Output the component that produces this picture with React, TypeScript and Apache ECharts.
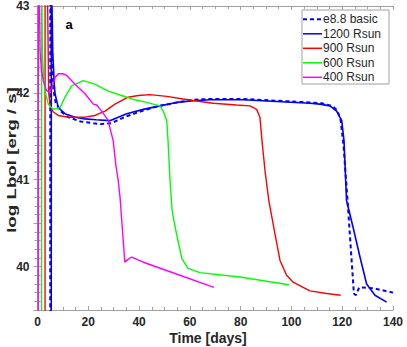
import React, { useEffect, useRef } from "react";
import * as echarts from "echarts";

// Time [days] and log Lbol for each model
const basicT = [5.0, 5.05, 5.3, 5.6, 6.2, 7.2, 9.5, 12, 17, 22, 25, 29, 35, 42, 48, 55, 61, 68, 81, 94, 107, 112, 116, 118, 119.3, 120.5, 122.1, 123.4, 124.6, 125.4, 126.7, 128.3, 132.2, 140];
const basicL = [38, 45, 43, 42.48, 42.05, 41.88, 41.78, 41.72, 41.67, 41.65, 41.64, 41.65, 41.73, 41.8, 41.85, 41.89, 41.92, 41.93, 41.93, 41.91, 41.89, 41.88, 41.85, 41.8, 41.7, 41.4, 40.76, 40.2, 39.69, 39.67, 39.76, 39.76, 39.75, 39.7];

const r1200T = [5.4, 5.45, 5.7, 6.0, 6.6, 6.9, 8.2, 10.8, 14.8, 18.7, 23, 28.5, 35.1, 41.7, 48.2, 54.8, 61.3, 67.9, 81, 94.2, 107.3, 111.2, 115.2, 117.8, 119.8, 120.7, 121.7, 124.3, 127, 129.6, 132.9, 137.5];
const r1200L = [38, 45, 43, 42.48, 42.1, 41.99, 41.83, 41.76, 41.72, 41.7, 41.69, 41.68, 41.76, 41.81, 41.85, 41.89, 41.91, 41.92, 41.92, 41.9, 41.88, 41.87, 41.85, 41.79, 41.68, 41.45, 40.76, 40.45, 40.11, 39.8, 39.67, 39.59];

const r900T = [2.95, 3.0, 4.0, 4.2, 4.4, 5.0, 6.2, 8.2, 12.1, 18.7, 22.6, 26.6, 30.5, 35.7, 39.7, 44.3, 50.9, 57.4, 64, 69.2, 78.4, 83.7, 86.3, 87.6, 88.4, 89.6, 91.1, 93.5, 95.5, 98.1, 100.7, 104.6, 107.3, 113.9, 119.4];
const r900L = [38, 45, 43, 42.5, 42.0, 41.85, 41.78, 41.74, 41.72, 41.72, 41.74, 41.79, 41.87, 41.95, 41.97, 41.98, 41.96, 41.93, 41.9, 41.88, 41.86, 41.85, 41.81, 41.72, 41.45, 41.1, 40.76, 40.38, 40.07, 39.9, 39.82, 39.76, 39.72, 39.69, 39.67];

const r600T = [1.6, 1.62, 1.75, 1.9, 2.3, 2.95, 4.25, 6.2, 8.9, 10.8, 13.5, 18, 22.6, 27.9, 33.1, 38.4, 43, 48.2, 49.5, 50.9, 51.4, 52.2, 53, 54.1, 55.3, 56.9, 59.3, 64, 79.7, 99];
const r600L = [38, 45, 43, 42.48, 42.2, 42.02, 41.87, 41.81, 41.83, 41.95, 42.08, 42.14, 42.1, 42.02, 41.97, 41.92, 41.89, 41.85, 41.79, 41.68, 41.45, 40.99, 40.65, 40.47, 40.3, 40.09, 39.98, 39.93, 39.88, 39.79];

const r400T = [0.3, 0.32, 0.8, 1.0, 1.6, 2.3, 3.5, 4.6, 5.5, 7, 8.2, 10, 11.5, 14.8, 18.7, 22, 23.3, 25.3, 27.9, 28.5, 29.8, 30.9, 31.8, 32.5, 34.4, 35.5, 37.1, 41.7, 52.2, 69.5];
const r400L = [38, 45, 43, 42.48, 42.25, 42.14, 42.03, 42.0, 42.05, 42.18, 42.22, 42.22, 42.2, 42.1, 41.99, 41.87, 41.86, 41.79, 41.68, 41.6, 41.45, 41.16, 40.99, 40.8, 40.05, 40.08, 40.11, 40.05, 39.94, 39.76];

const seriesNames = ["e8.8 basic", "1200 Rsun", "900 Rsun", "600 Rsun", "400 Rsun"];
const seriesColors = ["#0000ff", "#0000ff", "#ff0000", "#00ff00", "#ff00ff"];
const xTicks = { min: 0, max: 140, step: 20 };
const yTicks = { min: 39.5, max: 43, step: 0.5 };

const zip = (t: number[], l: number[]) => t.map((v, i) => [v, l[i]]);

const FONT = "'Liberation Sans', Arial, Helvetica, sans-serif";
const AX = "#a0a0a0";
const TXT = "#262626";

export default function App() {
  const ref = useRef<HTMLDivElement>(null);
  useEffect(() => {
    if (!ref.current) return;
    const chart = echarts.init(ref.current, undefined, { renderer: "svg" });
    const axisCommon = {
      type: "value" as const,
      axisLine: { show: true, lineStyle: { color: AX, width: 1 } },
      axisTick: { show: true, inside: true, length: 4, lineStyle: { color: AX } },
      minorTick: { show: true, length: 3, lineStyle: { color: AX } },
      splitLine: { show: false },
      minorSplitLine: { show: false },
    };
    const labelStyle = { fontSize: 12, fontWeight: "bold" as const, color: TXT, fontFamily: FONT };
    const mk = (name: string, data: number[][], color: string, width: number, type: any = "solid") => ({
      name,
      type: "line" as const,
      data,
      symbol: "none",
      xAxisIndex: 0,
      yAxisIndex: 0,
      clip: true,
      lineStyle: { color, width, type },
      itemStyle: { color },
    });

    // legend drawn as graphic elements (line samples, no symbols)
    const legX = 302, legY = 10, legW = 87, legH = 74, rowY0 = 19.3, rowStep = 14.5;
    const legendChildren: any[] = [
      { type: "rect", shape: { x: legX, y: legY, width: legW, height: legH }, style: { fill: "#fff", stroke: AX, lineWidth: 1 } },
    ];
    seriesNames.forEach((name, i) => {
      const y = rowY0 + i * rowStep;
      legendChildren.push({
        type: "line",
        shape: { x1: legX + 1, y1: y, x2: legX + 20, y2: y },
        style: { stroke: seriesColors[i], lineWidth: i === 0 ? 2 : 1.5, lineDash: i === 0 ? [4, 3] : null },
      });
      legendChildren.push({
        type: "text",
        x: legX + 21,
        y,
        style: { text: name, fontSize: 12, fill: TXT, fontFamily: FONT, textAlign: "left", textVerticalAlign: "middle" },
      });
    });

    chart.setOption({
      animation: false,
      backgroundColor: "#ffffff",
      grid: { left: 37.5, right: 14, top: 5, bottom: 37, containLabel: false },
      xAxis: [
        {
          ...axisCommon,
          position: "bottom",
          min: xTicks.min,
          max: xTicks.max,
          interval: xTicks.step,
          minorTick: { ...axisCommon.minorTick, splitNumber: 4 },
          axisLabel: { ...labelStyle, margin: 6 },
        },
        {
          ...axisCommon,
          position: "top",
          min: xTicks.min,
          max: xTicks.max,
          interval: xTicks.step,
          minorTick: { ...axisCommon.minorTick, splitNumber: 4 },
          axisLabel: { show: false },
        },
      ],
      yAxis: [
        {
          ...axisCommon,
          position: "left",
          min: yTicks.min,
          max: yTicks.max,
          interval: yTicks.step,
          minorTick: { ...axisCommon.minorTick, splitNumber: 5 },
          axisLabel: {
            ...labelStyle,
            margin: 8,
            formatter: (v: number) => (Math.abs(v - Math.round(v)) < 1e-9 ? String(Math.round(v)) : ""),
          },
        },
        {
          ...axisCommon,
          position: "right",
          min: yTicks.min,
          max: yTicks.max,
          interval: yTicks.step,
          minorTick: { ...axisCommon.minorTick, splitNumber: 5 },
          axisLabel: { show: false },
        },
      ],
      series: [
        mk(seriesNames[0], zip(basicT, basicL), seriesColors[0], 2, [4, 3]),
        mk(seriesNames[1], zip(r1200T, r1200L), seriesColors[1], 1.6),
        mk(seriesNames[2], zip(r900T, r900L), seriesColors[2], 1.4),
        mk(seriesNames[3], zip(r600T, r600L), seriesColors[3], 1.4),
        mk(seriesNames[4], zip(r400T, r400L), seriesColors[4], 1.4),
      ],
      graphic: [
        { type: "group", z: 100, children: legendChildren },
        {
          type: "text",
          x: 208,
          y: 338,
          style: { text: "Time [days]", fontSize: 14, fontWeight: "bold", fill: TXT, fontFamily: FONT, textAlign: "center", textVerticalAlign: "middle" },
        },
        {
          type: "text",
          x: 12,
          y: 160,
          rotation: Math.PI / 2,
          scaleX: 1.5,
          style: { text: "log Lbol [erg / s]", fontSize: 12.5, fontWeight: "bold", fill: TXT, fontFamily: FONT, textAlign: "center", textVerticalAlign: "middle" },
        },
        {
          type: "text",
          x: 69,
          y: 24,
          style: { text: "a", fontSize: 13, fontWeight: "bold", fill: "#000", fontFamily: FONT, textAlign: "center", textVerticalAlign: "middle" },
        },
      ],
    });
    return () => chart.dispose();
  }, []);
  return <div ref={ref} style={{ position: "fixed", left: 0, top: 0, width: 407, height: 347 }} />;
}
